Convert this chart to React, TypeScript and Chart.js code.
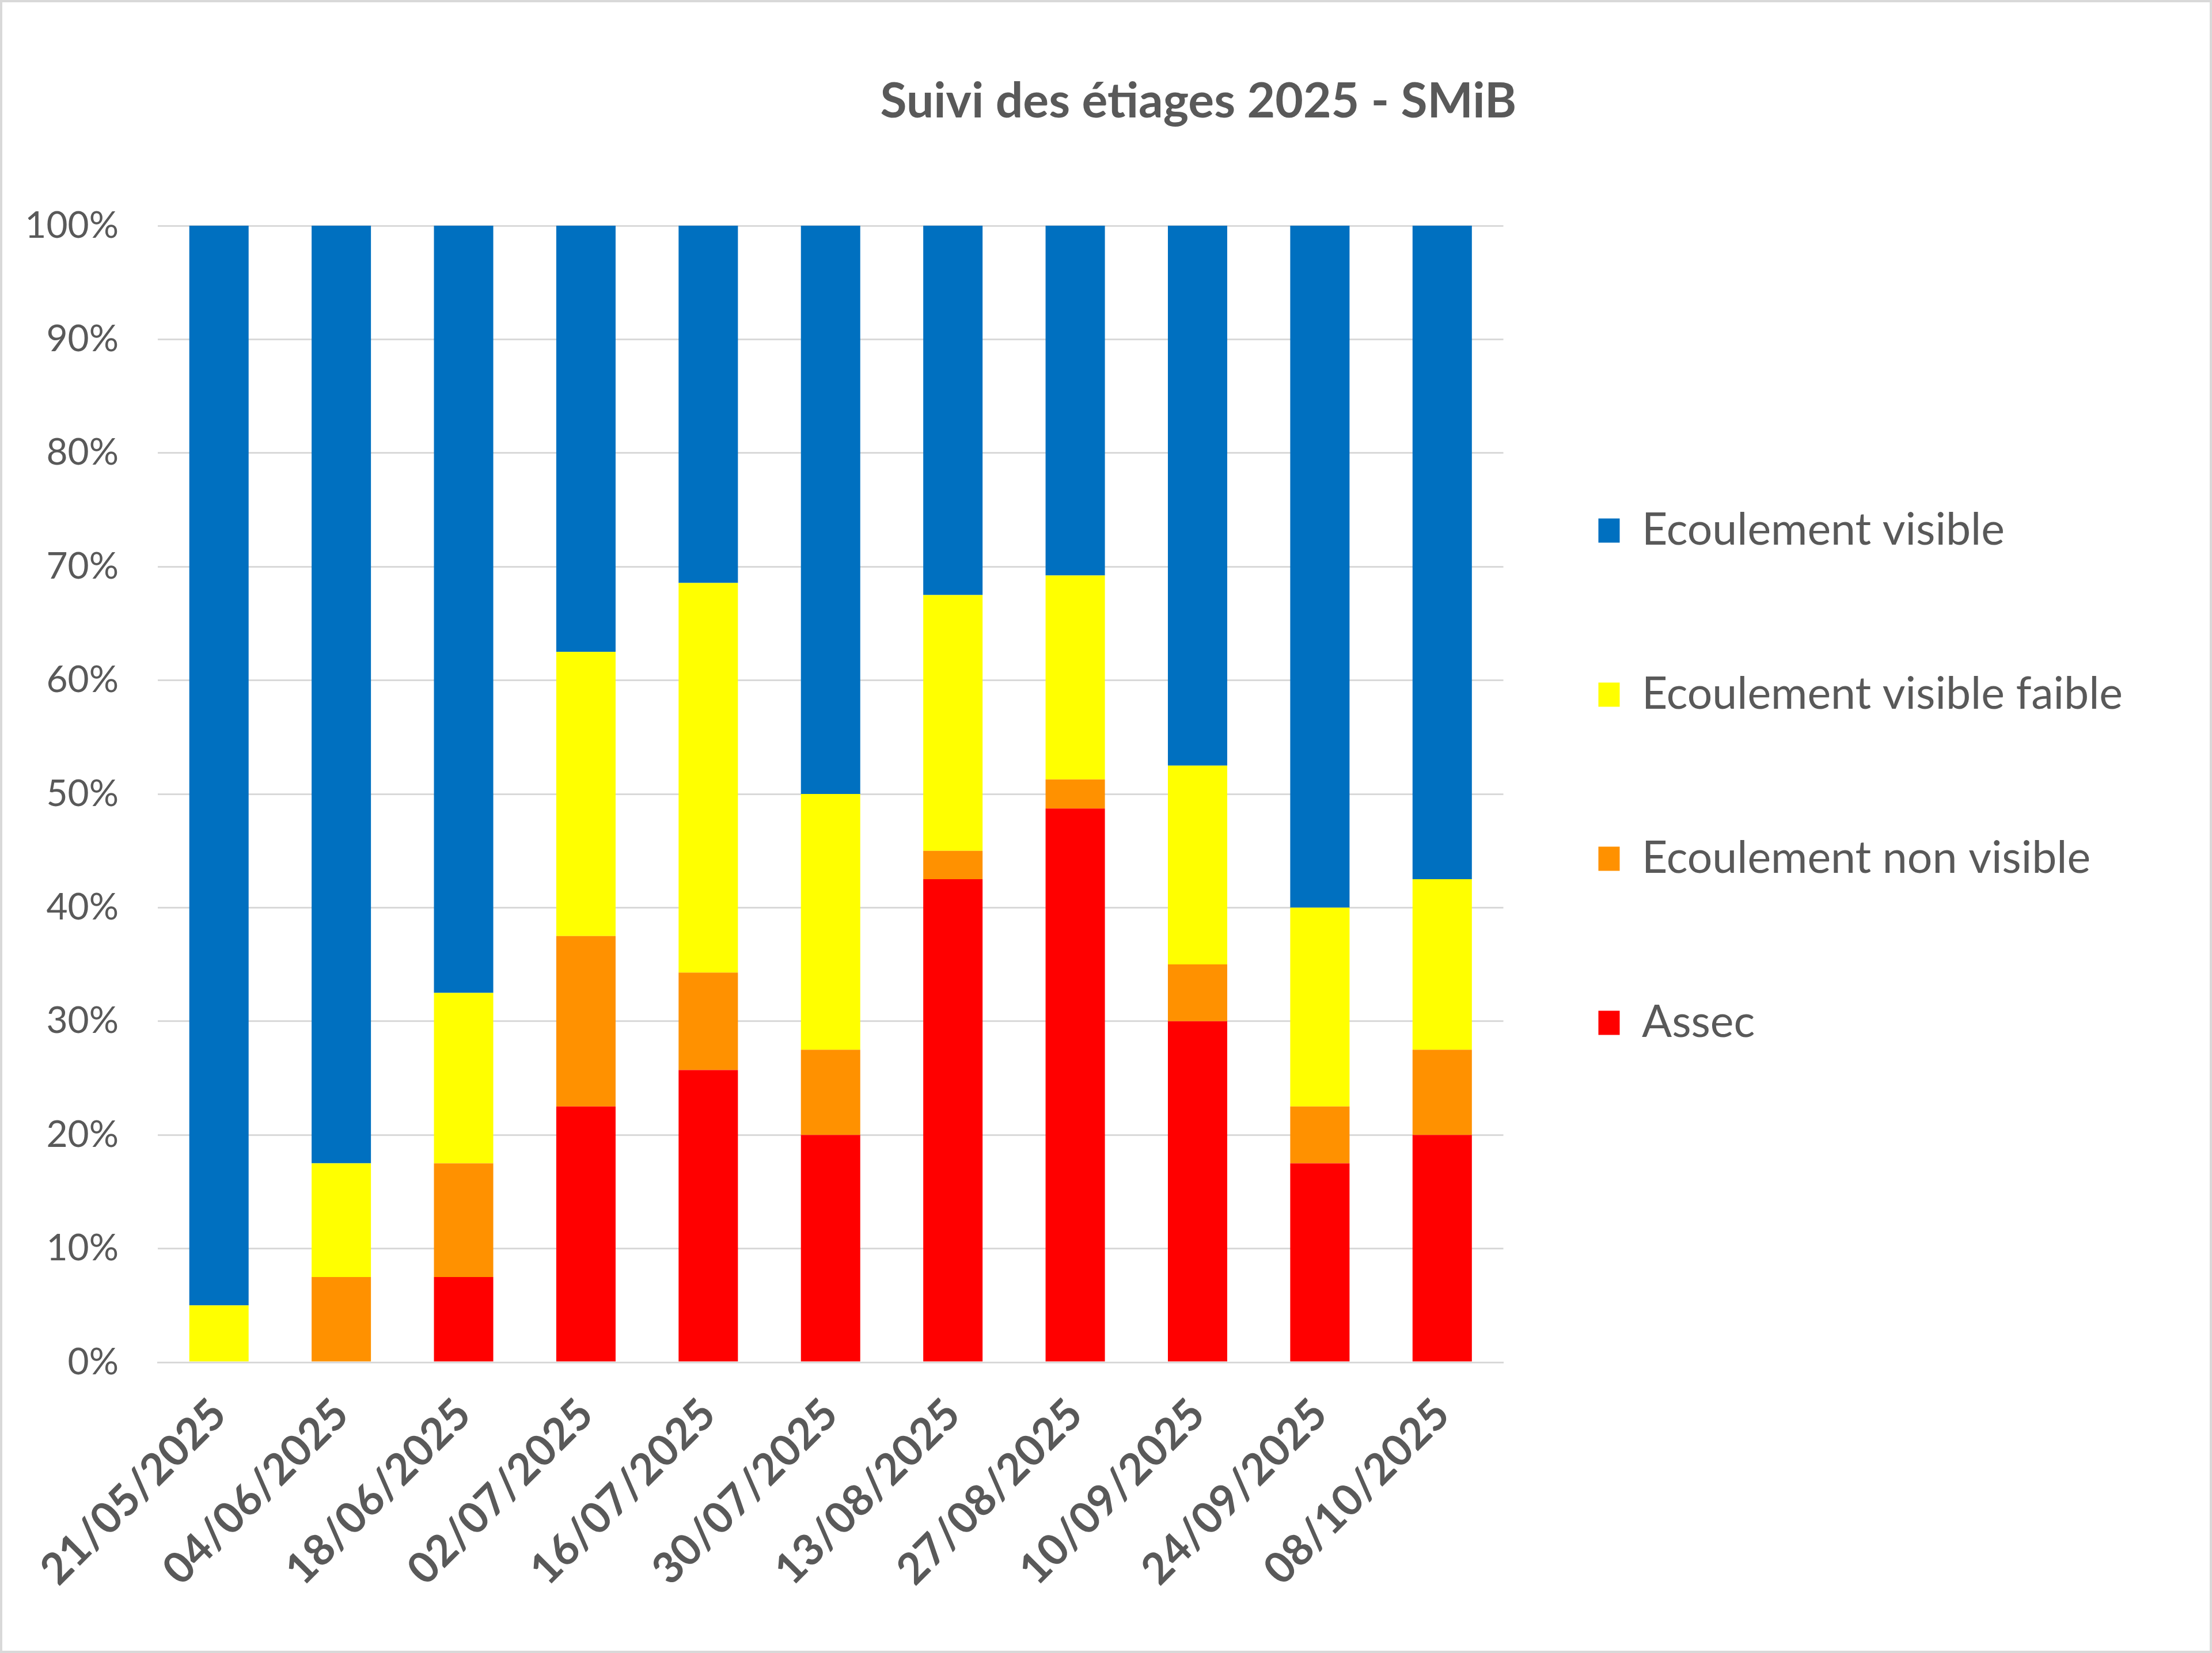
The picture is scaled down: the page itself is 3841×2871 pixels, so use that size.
import { useEffect, useRef } from "react";
import { Chart, registerables } from "chart.js";

Chart.register(...registerables);

const TITLE = "Suivi des étiages 2025 - SMiB";

const categories = [
  "21/05/2025",
  "04/06/2025",
  "18/06/2025",
  "02/07/2025",
  "16/07/2025",
  "30/07/2025",
  "13/08/2025",
  "27/08/2025",
  "10/09/2025",
  "24/09/2025",
  "08/10/2025",
];

// percentages, stacked bottom to top
const assec = [0, 0, 7.5, 22.5, 25.71, 20, 42.5, 48.72, 30, 17.5, 20];
const nonVisible = [0, 7.5, 10, 15, 8.57, 7.5, 2.5, 2.56, 5, 5, 7.5];
const visibleFaible = [5, 10, 15, 25, 34.29, 22.5, 22.5, 17.95, 17.5, 17.5, 15];
const visible = [95, 82.5, 67.5, 37.5, 31.43, 50, 32.5, 30.77, 47.5, 60, 57.5];

const seriesLabels = [
  "Assec",
  "Ecoulement non visible",
  "Ecoulement visible faible",
  "Ecoulement visible",
];

const W = 3841;
const H = 2871;
const TEXT = "#595959";
const GRID = "#D9D9D9";

export default function App() {
  const ref = useRef<HTMLCanvasElement>(null);

  useEffect(() => {
    document.body.style.margin = "0";
    document.body.style.overflow = "hidden";
    const canvas = ref.current;
    if (!canvas) return;

    const titlePlugin = {
      id: "offsetTitle",
      afterDraw(chart: any) {
        const c = chart.ctx;
        c.save();
        c.font = "bold 84px Lato";
        c.fillStyle = TEXT;
        c.textAlign = "center";
        c.textBaseline = "alphabetic";
        c.fillText(TITLE, 2081, 204);
        c.restore();
      },
    };

    const chart = new Chart(canvas, {
      type: "bar",
      data: {
        labels: categories,
        datasets: [
          { label: seriesLabels[0], data: assec, backgroundColor: "#FF0000" },
          { label: seriesLabels[1], data: nonVisible, backgroundColor: "#FF9100" },
          { label: seriesLabels[2], data: visibleFaible, backgroundColor: "#FFFF00" },
          { label: seriesLabels[3], data: visible, backgroundColor: "#0070C0" },
        ],
      },
      options: {
        responsive: false,
        animation: false,
        layout: { padding: { top: 392, right: 145, bottom: 0, left: 0 } },
        datasets: { bar: { barPercentage: 0.485, categoryPercentage: 1 } } as any,
        scales: {
          x: {
            stacked: true,
            grid: { display: false, drawTicks: false },
            border: { display: true, color: GRID, width: 3 },
            ticks: {
              color: TEXT,
              font: { family: "Lato", size: 75, weight: "bold" },
              minRotation: 45,
              maxRotation: 45,
              padding: 46,
            },
            afterFit: (s: any) => {
              s.height = H - 2366;
            },
          },
          y: {
            stacked: true,
            min: 0,
            max: 100,
            ticks: {
              stepSize: 10,
              callback: (v: any) => v + "%",
              color: TEXT,
              font: { family: "Lato", size: 64 },
              padding: 68,
            },
            grid: { color: GRID, lineWidth: 3, drawTicks: false },
            border: { display: false },
            afterFit: (s: any) => {
              s.width = 274;
            },
          },
        },
        plugins: {
          title: { display: false },
          tooltip: { enabled: false },
          legend: {
            position: "right",
            fullSize: false,
            align: "start",
            reverse: true,
            maxWidth: 1400,
            title: {
              display: true,
              text: "",
              font: { size: 10, lineHeight: 1 },
              padding: { top: 0, bottom: 316 },
            },
            labels: {
              color: TEXT,
              font: { family: "Lato", size: 77, lineHeight: "120px" },
              boxWidth: 37,
              boxHeight: 42,
              padding: 165,
              generateLabels: (ch: any) =>
                (Chart.defaults.plugins.legend.labels.generateLabels as any)(ch).map(
                  (item: any) => ({ ...item, text: [item.text] })
                ),
            },
          },
        },
      } as any,
      plugins: [titlePlugin],
    });

    return () => chart.destroy();
  }, []);

  return (
    <canvas
      ref={ref}
      width={W}
      height={H}
      style={{
        display: "block",
        width: W,
        height: H,
        outline: `4px solid ${GRID}`,
        outlineOffset: -4,
      }}
    />
  );
}
